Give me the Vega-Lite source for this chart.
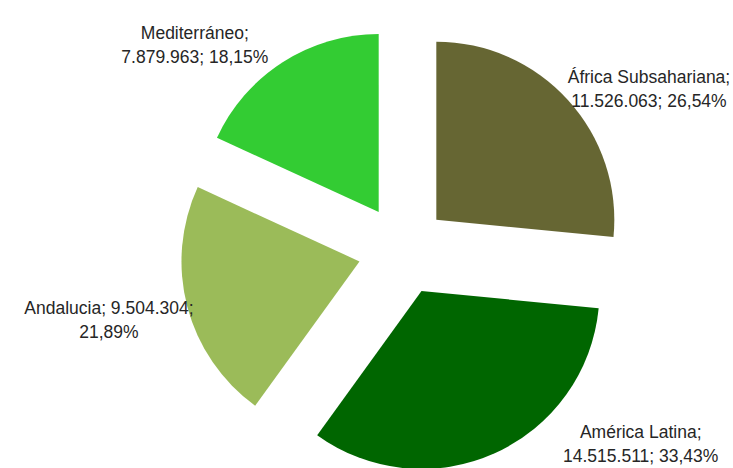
{
  "$schema": "https://vega.github.io/schema/vega-lite/v6.json",
  "width": 733,
  "height": 468,
  "autosize": "none",
  "padding": 0,
  "background": "white",
  "config": {"view": {"stroke": null}},
  "data": {
    "values": [
      {"region": "África Subsahariana", "valor": 11526063, "etiqueta": "África Subsahariana;\n11.526.063; 26,54%"},
      {"region": "América Latina", "valor": 14515511, "etiqueta": "América Latina;\n14.515.511; 33,43%"},
      {"region": "Andalucía", "valor": 9504304, "etiqueta": "Andalucia; 9.504.304;\n21,89%"},
      {"region": "Mediterráneo", "valor": 7879963, "etiqueta": "Mediterráneo;\n7.879.963; 18,15%"}
    ]
  },
  "transform": [
    {"joinaggregate": [{"op": "sum", "field": "valor", "as": "total"}]},
    {"window": [{"op": "sum", "field": "valor", "as": "cum"}], "frame": [null, 0]},
    {"calculate": "2 * PI * datum.cum / datum.total", "as": "t1"},
    {"calculate": "datum.t1 - 2 * PI * datum.valor / datum.total", "as": "t0"},
    {"calculate": "(datum.t0 + datum.t1) / 2", "as": "mid"},
    {"calculate": "45 * sin(datum.mid)", "as": "ex"},
    {"calculate": "45 * cos(datum.mid)", "as": "ey"},
    {"calculate": "atan2(1.3 * sin(datum.mid), cos(datum.mid))", "as": "p"},
    {"calculate": "clamp(300 * cos(datum.p), -183, 216)", "as": "ly"},
    {"calculate": "(sin(datum.p) >= 0 ? 1 : -1) * sqrt(300 * 300 - datum.ly * datum.ly)", "as": "lx"}
  ],
  "layer": [
    {
      "mark": {"type": "arc", "outerRadius": 178},
      "encoding": {
        "theta": {"field": "t0", "type": "quantitative", "scale": null, "stack": null},
        "theta2": {"field": "t1"},
        "x": {"field": "ex", "type": "quantitative", "scale": {"domain": [-403, 330]}, "axis": null},
        "y": {"field": "ey", "type": "quantitative", "scale": {"domain": [-218, 250]}, "axis": null},
        "color": {
          "field": "region",
          "type": "nominal",
          "scale": {
            "domain": ["África Subsahariana", "América Latina", "Andalucía", "Mediterráneo"],
            "range": ["#666633", "#006600", "#9BBB59", "#33CC33"]
          },
          "legend": null
        }
      }
    },
    {
      "mark": {
        "type": "text",
        "lineBreak": "\n",
        "font": "Liberation Sans, Arial, sans-serif",
        "fontSize": 17.5,
        "lineHeight": 24,
        "align": "center",
        "baseline": "middle",
        "color": "#262626"
      },
      "encoding": {
        "x": {"field": "lx", "type": "quantitative", "scale": {"domain": [-403, 330]}, "axis": null},
        "y": {"field": "ly", "type": "quantitative", "scale": {"domain": [-218, 250]}, "axis": null},
        "text": {"field": "etiqueta"}
      }
    }
  ]
}
